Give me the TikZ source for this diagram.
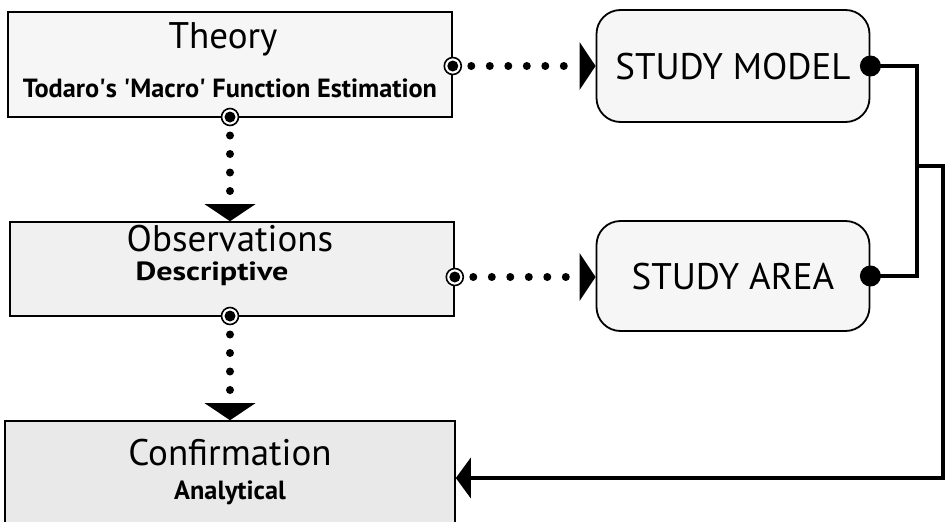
\documentclass[tikz,border=0pt]{standalone}
\usepackage{fontspec}
\setmainfont{PT Sans}
\usetikzlibrary{arrows.meta}
\begin{document}
\begin{tikzpicture}[x=1pt,y=-1pt,
  box/.style={draw=black,line width=1.6pt,rectangle,inner sep=0pt},
  rbox/.style={draw=black,line width=1.8pt,rectangle,rounded corners=24pt,inner sep=0pt,fill=gray!7},
  ttl/.style={anchor=base,inner sep=0pt,font=\fontsize{37}{42}\selectfont},
  sub/.style={anchor=base,inner sep=0pt,font=\fontsize{26.3}{30}\selectfont\bfseries},
  lbl/.style={anchor=base,inner sep=0pt,font=\fontsize{37}{42}\selectfont},
  dotline/.style={line width=8pt,line cap=round,dash pattern=on 0pt off 18.5pt},
  solid line/.style={line width=4.5pt},
  port/.style={circle,draw=black,line width=1.6pt,fill=white,minimum size=17pt,inner sep=0pt,
     path picture={\fill[black] (path picture bounding box.center) circle[radius=5.5pt];}},
  bport/.style={circle,fill=black,minimum size=21pt,inner sep=0pt},
]
\useasboundingbox (0,0) rectangle (946,522);
\clip (0,0) rectangle (946,522);
% boxes
\node[box,fill=gray!7,minimum width=444pt,minimum height=105pt] (theory) at (230,64.5) {};
\node[box,fill=gray!12,minimum width=444pt,minimum height=94pt] (obs) at (232,269) {};
\node[box,fill=gray!17,minimum width=450pt,minimum height=120pt] (conf) at (230,481) {};
\node[rbox,minimum width=273pt,minimum height=112pt] (smodel) at (733,66) {};
\node[rbox,minimum width=273pt,minimum height=110pt] (sarea) at (733,276) {};
% texts
\node[ttl] (theoryT) at (223,48) {Theory};
\node[sub] (theoryS) at (230,97) {Todaro\textquotesingle s \textquotesingle Macro\textquotesingle{} Function Estimation};
\node[ttl] (obsT) at (230,251) {Observations};
\node[sub] (obsS) at (212,280) {\scalebox{1.22}[1]{Descriptive}};
\node[ttl] (confT) at (230,465) {Confirmation};
\node[sub] (confS) at (230,499) {Analytical};
\node[lbl] (smodelT) at (733,79) {STUDY MODEL};
\node[lbl] (sareaT) at (733,289) {STUDY AREA};
% ports
\coordinate (thE) at (theory.east |- 0,66);
\coordinate (obE) at (obs.east |- 0,277);
\coordinate (thS) at (230,117);
\coordinate (obS) at (230,316);
\coordinate (smE) at (smodel.east);
\coordinate (saE) at (sarea.east |- 0,276);
\coordinate (junc) at (917,166);
\coordinate (cnr) at (943,166);
% dotted connectors
\draw[dotline,-{Triangle[length=16pt,width=47pt]}] (thE) -- (smodel.west |- thE);
\draw[dotline,-{Triangle[length=16pt,width=47pt]}] (obE) -- (sarea.west |- obE);
\draw[dotline,-{Triangle[length=17pt,width=50pt]}] (thS) -- (obs.north -| thS);
\draw[dotline,-{Triangle[length=17pt,width=50pt]}] (obS) -- (conf.north -| obS);
% solid connectors
\draw[solid line] (smE) -| (junc) |- (saE);
\draw[solid line,-{Triangle[length=15pt,width=40pt]}] (junc) -- (cnr) |- (conf.east |- 0,478);
% port symbols
\node[port] (p1) at (thE) {};
\node[port] (p2) at (obE) {};
\node[port] (p3) at (thS) {};
\node[port] (p4) at (obS) {};
\node[bport] (p5) at (smE) {};
\node[bport] (p6) at (saE) {};
\end{tikzpicture}
\end{document}
